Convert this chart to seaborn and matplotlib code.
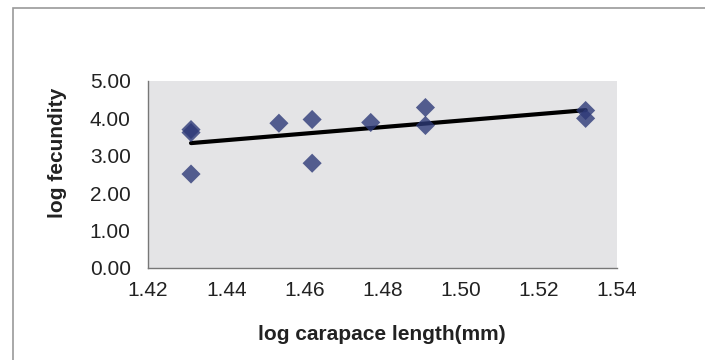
import numpy as np
import pandas as pd
import matplotlib
matplotlib.use("Agg")
import matplotlib.pyplot as plt
import seaborn as sns
from matplotlib.patches import Rectangle

# values
log_length = [1.431, 1.431, 1.431, 1.4535, 1.462, 1.462, 1.477, 1.491, 1.491, 1.532, 1.532]
log_fecundity = [3.70, 3.62, 2.51, 3.87, 3.97, 2.80, 3.89, 4.29, 3.81, 4.21, 4.00]
x_ticks = [1.42, 1.44, 1.46, 1.48, 1.50, 1.52, 1.54]
y_ticks = [0.0, 1.0, 2.0, 3.0, 4.0, 5.0]

df = pd.DataFrame({"length": log_length, "fecundity": log_fecundity})

sns.set_style("white")
plt.rcParams["font.family"] = ["Liberation Sans", "DejaVu Sans"]

fig = plt.figure(figsize=(7.05, 3.6), dpi=100)
ax = fig.add_axes([0.21, 0.256, 0.665, 0.519])
ax.set_facecolor("#e4e4e6")

# chart border (runs off the right and bottom edges)
fig.patches.append(Rectangle((13 / 705, -0.05), 1.0, 1.05 - 8 / 360,
                             transform=fig.transFigure, fill=False,
                             edgecolor="#9a9a9a", linewidth=1.2))

sns.regplot(data=df, x="length", y="fecundity", ax=ax, ci=None, truncate=True,
            marker="D",
            scatter_kws={"s": 95, "color": "#2e3a78", "edgecolors": "none", "zorder": 3},
            line_kws={"color": "black", "linewidth": 3, "zorder": 2})

ax.set_xlim(1.42, 1.54)
ax.set_ylim(0, 5)
ax.set_xticks(x_ticks)
ax.set_yticks(y_ticks)
ax.set_xticklabels([f"{t:.2f}" for t in x_ticks], fontsize=15, color="#222222")
ax.set_yticklabels([f"{t:.2f}" for t in y_ticks], fontsize=15, color="#222222")
ax.tick_params(axis="both", direction="out", length=4.5, width=1, color="#777777")
ax.tick_params(axis="y", pad=8)
ax.tick_params(axis="x", pad=5)

for s in ["top", "right"]:
    ax.spines[s].set_visible(False)
for s in ["left", "bottom"]:
    ax.spines[s].set_color("#777777")
    ax.spines[s].set_linewidth(1)

ax.set_xlabel("log carapace length(mm)", fontsize=15, fontweight="bold", color="#222222", va="center")
ax.set_ylabel("log fecundity", fontsize=15, fontweight="bold", color="#222222", va="center")
ax.xaxis.set_label_coords(0.499, -0.358)
ax.yaxis.set_label_coords(-0.194, 0.615)

fig.savefig("out.png", dpi=100)
